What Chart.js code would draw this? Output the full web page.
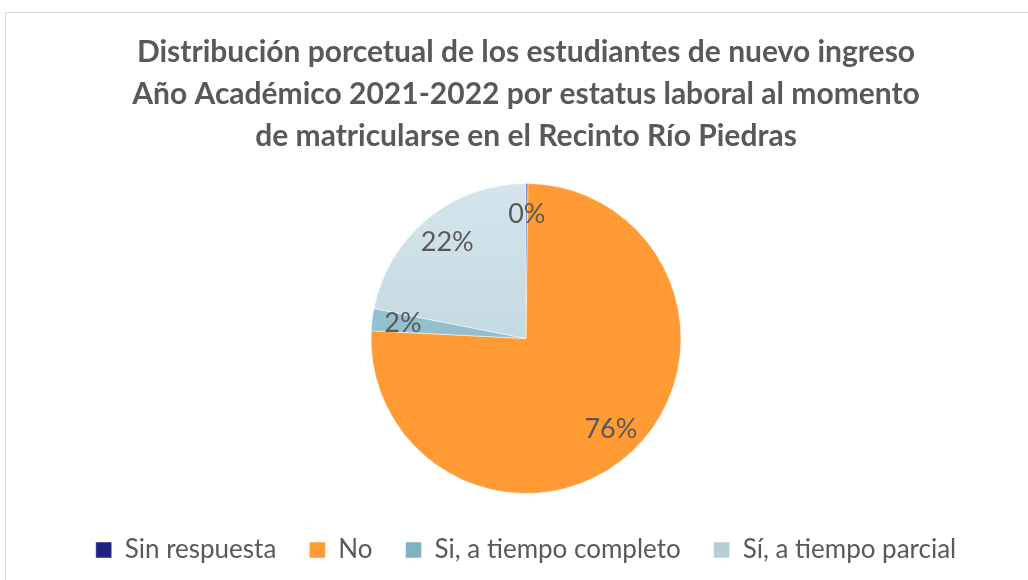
<!DOCTYPE html>
<html>
<head>
<meta charset="utf-8">
<script src="https://cdn.jsdelivr.net/npm/chart.js@4.4.1/dist/chart.umd.min.js"></script>
<style>
  body { margin: 0; background: #fff; }
  #box {
    position: absolute; left: 5px; top: 12px;
    width: 1030px; height: 580px;
    border: 1px solid #d9d9d9; box-sizing: border-box;
  }
  canvas { display: block; }
</style>
</head>
<body>
<div id="box"><canvas id="pieChart" width="1028" height="578"></canvas></div>
<script>
// Chart data
let categories = ['Sin respuesta', 'No', 'Si, a tiempo completo', 'Sí, a tiempo parcial'];
let percents = [0.2, 75.6, 2.3, 21.9];
let titleLines = [
  'Distribución porcetual de los estudiantes de nuevo ingreso',
  'Año Académico 2021-2022 por estatus laboral al momento',
  'de matricularse en el Recinto Río Piedras'
];

// top and bottom colours of each slice (Excel style gradient)
let topColors = ['#3d3fa0', '#ff9a35', '#a3cbd8', '#d5e6ed'];
let bottomColors = ['#1f2080', '#ff9a35', '#80b2c2', '#b5cdd7'];

let sliceColor = (ctx) => {
  let i = ctx.dataIndex;
  let area = ctx.chart.chartArea;
  if (!area) return topColors[i];
  let g = ctx.chart.ctx.createLinearGradient(0, area.top, 0, area.bottom);
  g.addColorStop(0, topColors[i]);
  g.addColorStop(1, bottomColors[i]);
  return g;
};

// Draw the percentage labels inside the slices
let sliceLabels = {
  id: 'sliceLabels',
  afterDatasetsDraw(chart) {
    let c = chart.ctx;
    let meta = chart.getDatasetMeta(0);
    c.save();
    c.font = '27px Lato, "DejaVu Sans", sans-serif';
    c.fillStyle = '#595959';
    c.textAlign = 'center';
    c.textBaseline = 'middle';
    meta.data.forEach((arc, i) => {
      let mid = (arc.startAngle + arc.endAngle) / 2;
      let r = arc.outerRadius * 0.8;
      let x = arc.x + Math.cos(mid) * r;
      let y = arc.y + Math.sin(mid) * r;
      c.fillText(Math.round(percents[i]) + '%', x, y);
    });
    c.restore();
  }
};

new Chart(document.getElementById('pieChart'), {
  type: 'pie',
  data: {
    labels: categories,
    datasets: [{
      data: percents,
      backgroundColor: sliceColor,
      borderColor: '#ffffff',
      borderWidth: 0.5,
      radius: 155
    }]
  },
  options: {
    responsive: false,
    animation: false,
    layout: { padding: { left: 12, top: 0, bottom: 18 } },
    plugins: {
      tooltip: { enabled: false },
      title: {
        display: true,
        text: titleLines,
        color: '#595959',
        font: { family: 'Lato, "DejaVu Sans", sans-serif', size: 30, weight: 'bold', lineHeight: 1.4 },
        padding: { top: 18, bottom: 16 }
      },
      legend: {
        position: 'bottom',
        labels: {
          color: '#595959',
          font: { family: 'Lato, "DejaVu Sans", sans-serif', size: 26 },
          boxWidth: 16,
          boxHeight: 16,
          padding: 33
        }
      }
    }
  },
  plugins: [sliceLabels]
});
</script>
</body>
</html>
